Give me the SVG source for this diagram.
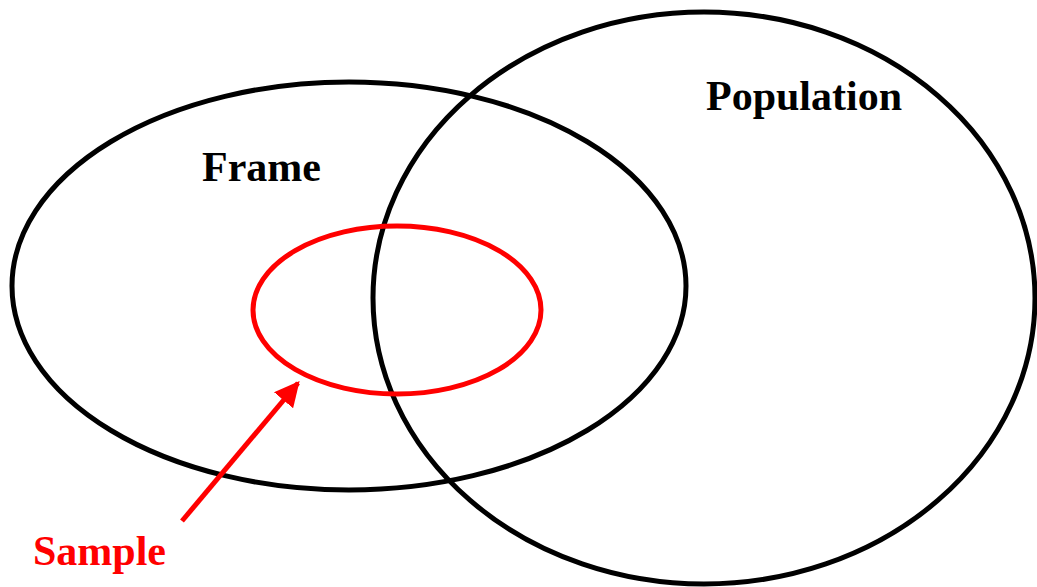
<svg xmlns="http://www.w3.org/2000/svg" width="1037" height="587" viewBox="0 0 1037 587">
<style>
.blk{fill:none;stroke:#000;stroke-width:5}
.red{fill:none;stroke:#f00;stroke-width:5}
.t{font-family:"Liberation Serif",serif;font-weight:bold;font-size:42px}
</style>
<defs>
<marker id="ah" viewBox="0 0 10 10" refX="9" refY="5" markerWidth="5" markerHeight="5" markerUnits="strokeWidth" orient="auto">
<path d="M0,0 L10,5 L0,10 z" fill="#f00"/>
</marker>
</defs>
<rect width="1037" height="587" fill="#fff"/>
<g id="frame">
<ellipse class="blk" cx="349" cy="286" rx="337" ry="204"/>
<text class="t" x="202" y="181">Frame</text>
</g>
<g id="population">
<ellipse class="blk" cx="704" cy="298" rx="331" ry="286"/>
<text class="t" x="706" y="110">Population</text>
</g>
<g id="sample">
<ellipse class="red" cx="397" cy="310" rx="144" ry="84"/>
<text class="t" x="33" y="565" fill="#f00">Sample</text>
</g>
<g id="connectors">
<line class="red" x1="182" y1="521" x2="298" y2="383" marker-end="url(#ah)"/>
</g>
</svg>
